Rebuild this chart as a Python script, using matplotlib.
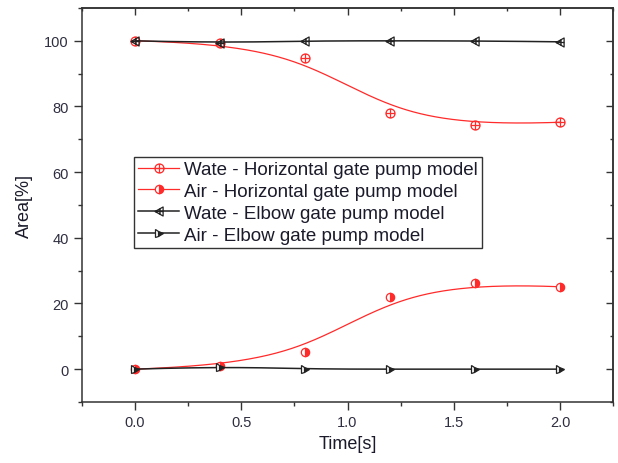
import numpy as np
import matplotlib
matplotlib.use('Agg')
import matplotlib.pyplot as plt
from matplotlib.path import Path
from matplotlib.ticker import MultipleLocator

plt.rcParams['font.family'] = ['Liberation Sans', 'DejaVu Sans']

# data
time = [0.0, 0.4, 0.8, 1.2, 1.6, 2.0]
wate_horiz = [100.0, 99.3, 94.9, 78.0, 74.3, 75.2]
air_horiz = [0.0, 1.0, 5.2, 22.1, 26.1, 25.1]
wate_elbow = [100.0, 99.4, 100.0, 100.0, 100.0, 99.7]
air_elbow = [0.0, 0.8, 0.0, 0.0, 0.0, 0.0]
labels = ['Wate - Horizontal gate pump model',
          'Air - Horizontal gate pump model',
          'Wate - Elbow gate pump model',
          'Air - Elbow gate pump model']


def bspline(px, py, k=3, num=300):
    """clamped B-spline using the points as control points (Origin style)"""
    px = np.asarray(px, float)
    py = np.asarray(py, float)
    n = len(px)
    t = np.concatenate([np.zeros(k), np.linspace(0, 1, n - k + 1), np.ones(k)])
    u = np.linspace(0, 1, num)
    u[-1] -= 1e-9

    def basis(i, d):
        if d == 0:
            return ((t[i] <= u) & (u < t[i + 1])).astype(float)
        a = 0.0
        b = 0.0
        if t[i + d] > t[i]:
            a = (u - t[i]) / (t[i + d] - t[i]) * basis(i, d - 1)
        if t[i + d + 1] > t[i + 1]:
            b = (t[i + d + 1] - u) / (t[i + d + 1] - t[i + 1]) * basis(i + 1, d - 1)
        return a + b

    B = np.array([basis(i, k) for i in range(n)])
    return B.T @ px, B.T @ py


# custom markers: circle with cross, left triangle with cross
circ = Path.unit_circle()
cross = Path([(-1, 0), (1, 0), (0, -1), (0, 1)],
             [Path.MOVETO, Path.LINETO, Path.MOVETO, Path.LINETO])
circ_cross = Path.make_compound_path(circ, cross)
tri = Path([(-1, 0), (0.8, 1), (0.8, -1), (-1, 0)],
           [Path.MOVETO, Path.LINETO, Path.LINETO, Path.CLOSEPOLY])
tri_cross = Path.make_compound_path(
    tri, Path([(-1, 0), (0.8, 0), (0.1, -0.6), (0.1, 0.6)],
              [Path.MOVETO, Path.LINETO, Path.MOVETO, Path.LINETO]))

fig = plt.figure(figsize=(6.18, 4.64), dpi=100)
ax = fig.add_axes([0.1327, 0.1315, 0.8593, 0.8491])

red = '#ff2a2a'
blk = '#222222'

series = [
    (wate_horiz, red, dict(marker=circ_cross, markersize=6.5, markerfacecolor='none',
                           markeredgecolor=red, markeredgewidth=0.9), 0.9),
    (air_horiz, red, dict(marker='o', markersize=6, fillstyle='right',
                          markerfacecolor=red, markerfacecoloralt='white',
                          markeredgecolor=red, markeredgewidth=0.9), 0.9),
    (wate_elbow, blk, dict(marker=tri_cross, markersize=6.5, markerfacecolor='none',
                           markeredgecolor=blk, markeredgewidth=0.9), 1.1),
    (air_elbow, blk, dict(marker='>', markersize=6, fillstyle='right',
                          markerfacecolor=blk, markerfacecoloralt='white',
                          markeredgecolor=blk, markeredgewidth=0.9), 1.1),
]

handles = []
for (vals, col, mk, lw), lab in zip(series, labels):
    sx, sy = bspline(time, vals)
    ax.plot(sx, sy, color=col, lw=lw)
    ax.plot(time, vals, linestyle='none', **mk)
    h, = ax.plot([], [], color=col, lw=lw, label=lab, **mk)
    handles.append(h)

ax.set_xlim(-0.25, 2.25)
ax.set_ylim(-10, 110)
ax.xaxis.set_major_locator(MultipleLocator(0.5))
ax.xaxis.set_minor_locator(MultipleLocator(0.25))
ax.yaxis.set_major_locator(MultipleLocator(20))
ax.yaxis.set_minor_locator(MultipleLocator(10))
ax.tick_params(which='major', direction='out', length=5.5, width=1.0,
               color='#333333', labelsize=10.5, labelcolor='#2e2e40', pad=4)
ax.tick_params(which='minor', direction='out', length=3, width=1.0, color='#333333')

# top and right ticks point inward
top = ax.secondary_xaxis('top')
top.xaxis.set_major_locator(MultipleLocator(0.5))
top.xaxis.set_minor_locator(MultipleLocator(0.25))
top.tick_params(which='major', direction='in', length=5, width=1.0,
                color='#333333', labeltop=False)
top.tick_params(which='minor', direction='in', length=2.5, width=1.0, color='#333333')
right = ax.secondary_yaxis('right')
right.yaxis.set_major_locator(MultipleLocator(20))
right.yaxis.set_minor_locator(MultipleLocator(10))
right.tick_params(which='major', direction='in', length=5, width=1.0,
                  color='#333333', labelright=False)
right.tick_params(which='minor', direction='in', length=2.5, width=1.0, color='#333333')
for s in list(ax.spines.values()) + [top.spines['top'], right.spines['right']]:
    s.set_linewidth(1.1)
    s.set_color('#333333')

ax.set_xlabel('Time[s]', fontsize=13, color='#1a1a2a', labelpad=4)
ax.set_ylabel('Area[%]', fontsize=13, color='#1a1a2a', labelpad=8)

leg = ax.legend(handles=handles, loc='upper left', bbox_to_anchor=(0.098, 0.622),
                borderaxespad=0, fontsize=13.5, numpoints=1, handlelength=2.2,
                handletextpad=0.25, labelspacing=0.25, borderpad=0.22,
                fancybox=False, framealpha=1, edgecolor='#333333')
leg.get_frame().set_linewidth(1.0)
for txt in leg.get_texts():
    txt.set_color('#1a1a2a')

fig.savefig('out.png', dpi=100)
